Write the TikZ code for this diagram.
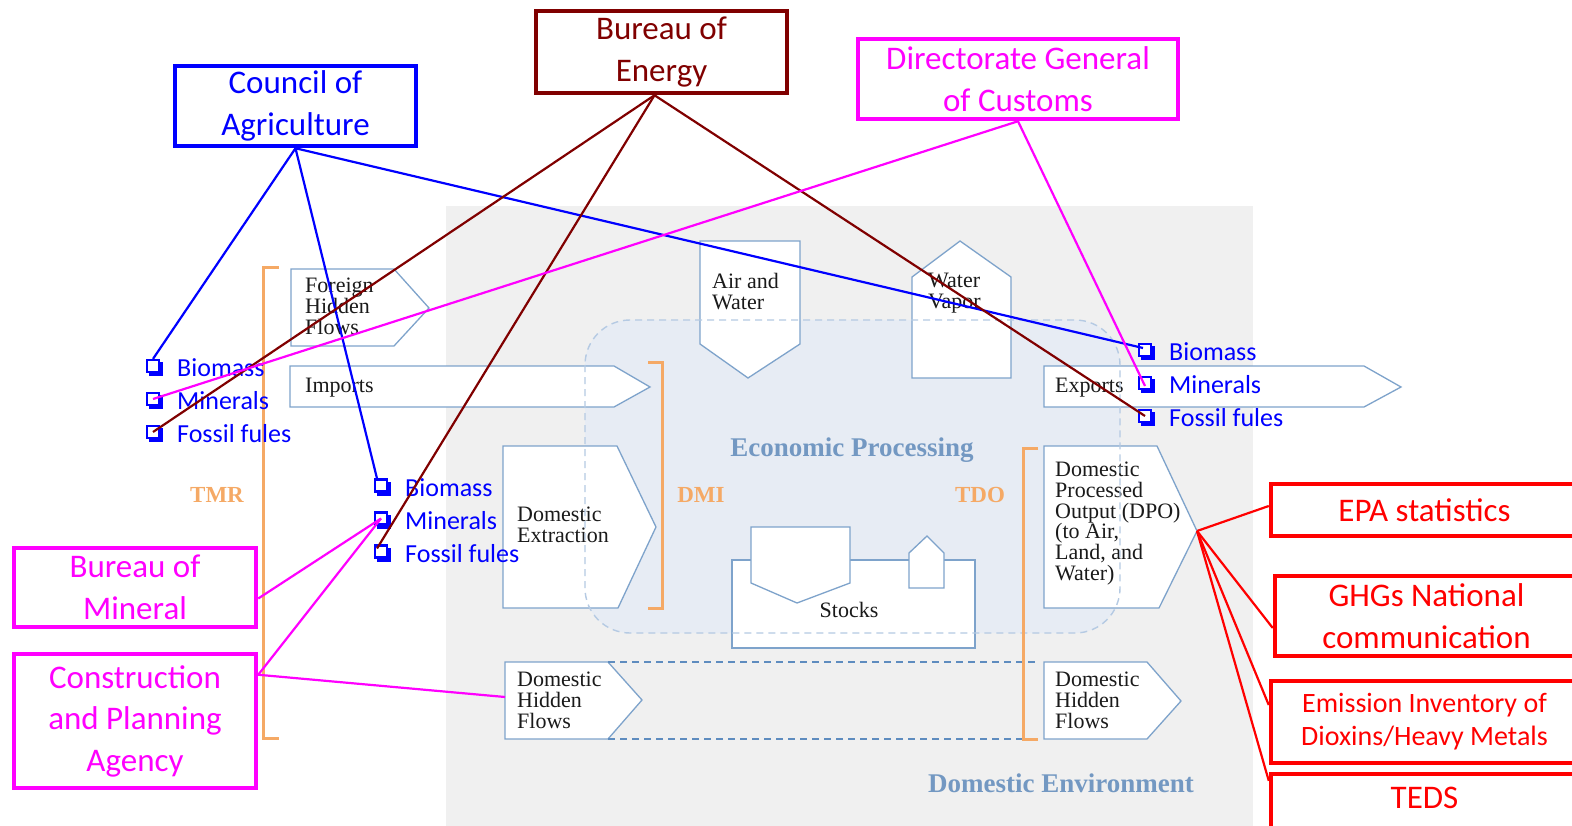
\documentclass[tikz,border=0pt]{standalone}
\usepackage{fontspec}
\newfontfamily\carl{Carlito}
\newfontfamily\lser{Liberation Serif}
\usetikzlibrary{calc}
\definecolor{boec}{HTML}{800000}
\definecolor{mag}{HTML}{FF00FF}
\definecolor{flowc}{HTML}{7EA3CB}
\definecolor{bgc}{HTML}{F0F0F0}
\definecolor{ecoc}{HTML}{E7ECF4}
\definecolor{ecod}{HTML}{B5CAE3}
\definecolor{orgc}{HTML}{F5A965}
\definecolor{envc}{HTML}{7398C2}
\definecolor{dashc}{HTML}{5E8CBF}
\definecolor{txtc}{HTML}{1A1A1A}
\begin{document}
\begin{tikzpicture}[x=1pt,y=-1pt,
  orgbox/.style={draw, line width=4.5pt, inner sep=0pt, align=center, font=\carl\fontsize{33}{41.5}\selectfont},
  conn/.style={line width=2.2pt},
  flow/.style={draw=flowc, fill=white, line width=1.3pt},
  ftxt/.style={font=\lser\fontsize{22}{20.7}\selectfont, text=txtc, align=left, inner sep=0pt},
  item/.style={font=\carl\fontsize{26}{30}\selectfont, text=blue, inner sep=0pt, anchor=west},
  chkb/.style={draw=blue, line width=2.2pt, fill=white, minimum size=12pt, inner sep=0pt},
  brk/.style={draw=orgc, line width=3pt},
  brtxt/.style={text=orgc, font=\lser\bfseries\fontsize{23}{26}\selectfont, inner sep=0pt},
  envtxt/.style={text=envc, font=\lser\bfseries\fontsize{27}{30}\selectfont, inner sep=0pt}]
\useasboundingbox (0,0) rectangle (1572,826);
\clip (0,0) rectangle (1572,826);
% backgrounds
\fill[bgc] (446,206) rectangle (1253,830);
\fill[ecoc, rounded corners=45pt] (585,320) rectangle (1120,633);
% flow shapes
\draw[flow] (291,269) -- (394,269) -- (429,308) -- (394,346) -- (291,346) -- cycle;
\node[ftxt, anchor=north west] (fhf) at (305,278) {Foreign\\Hidden\\Flows};
\draw[flow] (290,366) -- (614,366) -- (650,387) -- (614,407) -- (290,407) -- cycle;
\node[ftxt, anchor=base west] (imp) at (305,392) {Imports};
\draw[flow] (700,241) -- (800,241) -- (800,344) -- (748,378) -- (700,344) -- cycle;
\node[ftxt, anchor=north west] (aw) at (712,273) {Air and\\Water};
\draw[flow] (912,277) -- (960,241) -- (1011,277) -- (1011,378) -- (912,378) -- cycle;
\node[ftxt, anchor=north west] (wv) at (928,273) {Water\\Vapor};
\draw[flow] (1044,366) -- (1364,366) -- (1401,387) -- (1364,407) -- (1044,407) -- cycle;
\node[ftxt, anchor=base west] (exp) at (1055,392) {Exports};
\draw[flow] (503,446) -- (617,446) -- (656,527) -- (618,608) -- (503,608) -- cycle;
\node[ftxt, anchor=north west] (de) at (517,507) {Domestic\\Extraction};
\draw[flow] (1044,446) -- (1157,446) -- (1197,531) -- (1159,608) -- (1044,608) -- cycle;
\node[ftxt, anchor=north west] (dpo) at (1055,462) {Domestic\\Processed\\Output (DPO)\\(to Air,\\Land, and\\Water)};
\coordinate (dpotip) at (1197,531);
\draw[flow] (505,662) -- (608,662) -- (642,700) -- (608,739) -- (505,739) -- cycle;
\node[ftxt, anchor=north west] (dhf1) at (517,672) {Domestic\\Hidden\\Flows};
\coordinate (dhfw) at (505,697);
\draw[flow] (1044,662) -- (1147,662) -- (1181,701) -- (1147,739) -- (1044,739) -- cycle;
\node[ftxt, anchor=north west] (dhf2) at (1055,672) {Domestic\\Hidden\\Flows};
% stocks
\draw[flow] (732,560) rectangle (975,648);
\draw[flow] (751,527) -- (850,527) -- (850,583) -- (797,603) -- (751,583) -- cycle;
\draw[flow] (909,588) -- (909,553) -- (927,536) -- (944,553) -- (944,588) -- cycle;
\node[ftxt, anchor=base] (stk) at (849,617) {Stocks};
% eco outline
\draw[ecod, line width=1.4pt, dash pattern=on 7pt off 5pt, rounded corners=45pt] (585,320) rectangle (1120,633);
\draw[dashc, line width=1.4pt, dash pattern=on 7pt off 5pt] (608,662) -- (1038,662);
\draw[dashc, line width=1.4pt, dash pattern=on 7pt off 5pt] (608,739) -- (1024,739);
\node[envtxt] (ep) at (852,450) {Economic Processing};
\node[envtxt] (den) at (1061,783) {Domestic Environment};
% brackets
\draw[brk] (279,268) -- (263,268) -- (263,738) -- (279,738);
\draw[brk] (648,363) -- (662,363) -- (662,608) -- (648,608);
\draw[brk] (1038,448) -- (1023,448) -- (1023,739) -- (1038,739);
\node[brtxt] (tmr) at (217,495) {TMR};
\node[brtxt] (dmi) at (701,495) {DMI};
\node[brtxt] (tdo) at (980,495) {TDO};
% check items
\foreach \g/\x/\y in {g1/153/366, g2/381/485.5, g3/1145/350}{
  \foreach \k/\lab/\dy in {b/Biomass/0, m/Minerals/33, f/Fossil fules/66}{
    \fill[blue] (\x-4,\y+\dy-4) rectangle (\x+10,\y+\dy+10);
    \node[chkb] (\g\k) at (\x,\y+\dy) {};
    \node[item] (\g\k t) at (\x+24,\y+\dy+2) {\lab};
  }
}
% org boxes
\node[orgbox, draw=blue, text=blue, minimum width=241pt, minimum height=80pt] (coa) at (295.5,106) {Council of\\Agriculture};
\node[orgbox, draw=boec, text=boec, minimum width=251pt, minimum height=82pt] (boe) at (661.5,52) {Bureau of\\Energy};
\node[orgbox, draw=mag, text=mag, minimum width=320pt, minimum height=80pt] (dgc) at (1018,79) {Directorate General\\of Customs};
\node[orgbox, draw=mag, text=mag, minimum width=242pt, minimum height=79pt] (bom) at (135,587.5) {Bureau of\\Mineral};
\node[orgbox, draw=mag, text=mag, minimum width=242pt, minimum height=134pt] (cpa) at (135,721) {Construction\\and Planning\\Agency};
\node[orgbox, draw=red, text=red, minimum width=307pt, minimum height=52pt] (epa) at (1424.5,510) {EPA statistics};
\node[orgbox, draw=red, text=red, minimum width=303pt, minimum height=80pt] (ghg) at (1426.5,616) {GHGs National\\communication};
\node[orgbox, draw=red, text=red, minimum width=307pt, minimum height=82pt, font=\carl\fontsize{28}{33}\selectfont] (eid) at (1424.5,722) {Emission Inventory of\\Dioxins/Heavy Metals};
\node[orgbox, draw=red, minimum width=307pt, minimum height=86pt] (teds) at (1424.5,817) {};
\node[text=red, font=\carl\fontsize{33}{40}\selectfont, inner sep=0pt] (tedst) at (1424.5,798) {TEDS};
% connectors
\draw[conn, blue] (coa.south) -- (g1b.north);
\draw[conn, blue] (coa.south) -- ($(g2b.north)+(-4,0)$);
\draw[conn, blue] (coa.south) -- ($(g3b.center)+(-2,-2)$);
\draw[conn, boec] ($(boe.south)+(-7,0)$) -- (g1f.center);
\draw[conn, boec] ($(boe.south)+(-7,0)$) -- ($(g2f.center)+(-4,-3)$);
\draw[conn, boec] ($(boe.south)+(-7,0)$) -- (g3f.center);
\draw[conn, mag] (dgc.south) -- (g1m.center);
\draw[conn, mag] (dgc.south) -- ($(g3m.center)+(0,3)$);
\draw[conn, mag] ($(bom.east)+(0,11)$) -- (g2m.center);
\draw[conn, mag] ($(cpa.north east)+(0,23)$) -- (g2m.center);
\draw[conn, mag] ($(cpa.north east)+(0,23)$) -- (dhfw);
\draw[conn, red] (dpotip) -- ($(epa.west)+(0,-4)$);
\draw[conn, red] (dpotip) -- ($(ghg.west)+(0,12)$);
\draw[conn, red] (dpotip) -- ($(eid.west)+(0,-17)$);
\draw[conn, red] (dpotip) -- ($(teds.north west)+(0,9)$);
\end{tikzpicture}
\end{document}
